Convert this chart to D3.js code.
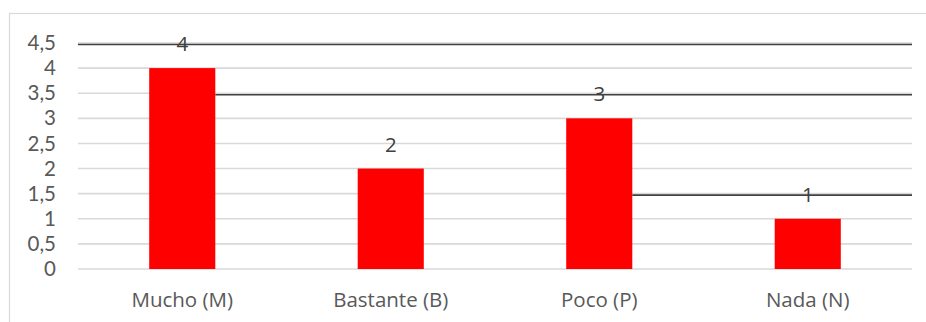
<!DOCTYPE html>
<html>
<head>
<meta charset="utf-8">
<script src="https://cdn.jsdelivr.net/npm/d3@7"></script>
<style>
  html, body { margin: 0; padding: 0; background: #fff; }
  svg { display: block; }
  text { font-family: "Open Sans", "Noto Sans", sans-serif; }
</style>
</head>
<body>
<svg id="chart" width="926" height="322"></svg>
<script>
// Chart data
const categories = ["Mucho (M)", "Bastante (B)", "Poco (P)", "Nada (N)"];
const values = [4, 2, 3, 1];
const yTicks = [0, 0.5, 1, 1.5, 2, 2.5, 3, 3.5, 4, 4.5];
// Dark horizontal rules: level on the value axis and the bar they start after (null = axis start)
const ruleLevels = [4.47, 3.47, 1.47];
const ruleStartAfter = [null, "Mucho (M)", "Poco (P)"];

const svg = d3.select("#chart");
const W = 926, H = 322;
const plot = { left: 78, right: 912, top: 43, bottom: 269 };
const FONT = "'Open Sans', 'Noto Sans', sans-serif";
const TICK_FONT = "Lato, 'Open Sans', sans-serif";
const FS = "20.5px";

const x = d3.scaleBand()
  .domain(categories)
  .range([plot.left, plot.right])
  .paddingInner(0.683)
  .paddingOuter(0.3415);

const y = d3.scaleLinear()
  .domain([0, 4.5])
  .range([plot.bottom, plot.top]);

const fmt = d => d3.format(".1~f")(d).replace(".", ",");

// Chart area frame
svg.append("rect")
  .attr("x", 9.5).attr("y", 13.5)
  .attr("width", W + 20).attr("height", H + 20)
  .attr("fill", "#fff")
  .attr("stroke", "#d9d9d9")
  .attr("stroke-width", 1.2);

// Gridlines
svg.append("g")
  .selectAll("line")
  .data(yTicks)
  .join("line")
  .attr("x1", plot.left).attr("x2", plot.right)
  .attr("y1", d => y(d)).attr("y2", d => y(d))
  .attr("stroke", "#d9d9d9")
  .attr("stroke-width", 1.6);

// Y axis labels
const yAxis = svg.append("g")
  .attr("transform", `translate(${plot.left},0)`)
  .call(d3.axisLeft(y).tickValues(yTicks).tickFormat(fmt).tickSize(0).tickPadding(22));
yAxis.select(".domain").remove();
yAxis.selectAll("text")
  .attr("fill", "#595959")
  .style("font-size", "20.5px")
  .style("font-family", TICK_FONT);

// Dark rules behind the bars
svg.append("g")
  .selectAll("line")
  .data(ruleLevels.map((v, i) => ({ v, after: ruleStartAfter[i] })))
  .join("line")
  .attr("x1", d => d.after === null ? plot.left : x(d.after) + x.bandwidth())
  .attr("x2", plot.right)
  .attr("y1", d => y(d.v)).attr("y2", d => y(d.v))
  .attr("stroke", "#404040")
  .attr("stroke-width", 1.7);

// Bars
svg.append("g")
  .selectAll("rect")
  .data(categories.map((c, i) => ({ c, v: values[i] })))
  .join("rect")
  .attr("x", d => x(d.c))
  .attr("width", x.bandwidth())
  .attr("y", d => y(d.v))
  .attr("height", d => y(0) - y(d.v))
  .attr("fill", "#ff0000");

// Value labels
svg.append("g")
  .selectAll("text")
  .data(categories.map((c, i) => ({ c, v: values[i] })))
  .join("text")
  .attr("x", d => x(d.c) + x.bandwidth() / 2)
  .attr("y", d => y(d.v) - 17)
  .attr("text-anchor", "middle")
  .attr("fill", "#404040")
  .style("font-size", FS)
  .text(d => fmt(d.v));

// Category labels
const xAxis = svg.append("g")
  .attr("transform", `translate(0,${plot.bottom})`)
  .call(d3.axisBottom(x).tickSize(0).tickPadding(23));
xAxis.select(".domain").remove();
xAxis.selectAll("text")
  .attr("fill", "#595959")
  .style("font-size", FS)
  .style("font-family", FONT);
</script>
</body>
</html>
